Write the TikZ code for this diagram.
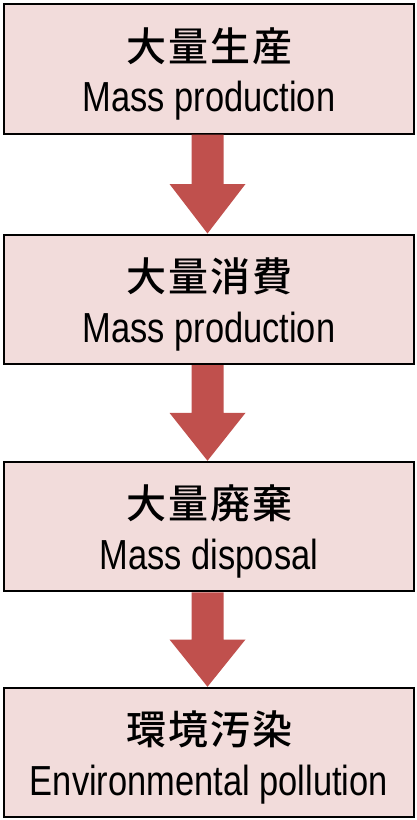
\documentclass[tikz,border=0pt]{standalone}
\usepackage{fontspec}
\setmainfont{Liberation Sans}
\newfontfamily\enfont{Liberation Sans}[FakeStretch=0.82]
\newfontfamily\jpfont{Noto Sans CJK JP Medium}[LetterSpace=5]
\usetikzlibrary{calc}
\definecolor{boxfill}{RGB}{242,220,219}
\definecolor{arrowc}{RGB}{192,80,77}
\begin{document}
\begin{tikzpicture}[x=1pt,y=1pt,
  stagebox/.style={draw=black, line width=2pt, fill=boxfill, minimum width=410pt, minimum height=129.5pt, inner sep=0pt},
  jptext/.style={font=\jpfont\fontsize{40}{42}\selectfont, inner sep=0pt},
  entext/.style={font=\enfont\fontsize{42}{44}\selectfont, inner sep=0pt, anchor=base},
  flowarrow/.style={fill=arrowc}]
\fill[white] (0,0) rectangle (416,-820);
\useasboundingbox (0,0) rectangle (416,-820);
\node[stagebox] (b1) at (209,-68.75) {};
\node[stagebox] (b2) at (209,-299.25) {};
\node[stagebox] (b3) at (209,-526.5) {};
\node[stagebox] (b4) at (209,-752.5) {};
\node[jptext] (j1) at ($(b1.center)+(0,23)$) {大量生産};
\node[entext] (e1) at ($(b1.center)+(0,-43)$) {Mass production};
\node[jptext] (j2) at ($(b2.center)+(0,23)$) {大量消費};
\node[entext] (e2) at ($(b2.center)+(0,-43)$) {Mass production};
\node[jptext] (j3) at ($(b3.center)+(0,23)$) {大量廃棄};
\node[entext] (e3) at ($(b3.center)+(0,-43)$) {Mass disposal};
\node[jptext] (j4) at ($(b4.center)+(0,23)$) {環境汚染};
\node[entext] (e4) at ($(b4.center)+(0,-43)$) {Environmental pollution};
\foreach \a/\b in {b1/b2,b2/b3,b3/b4}{
  \fill[flowarrow] let \p1=(\a.south), \p2=(\b.north), \n1={(\y1+\y2)/2} in
    (\x1-17.5,\y1) -- (\x1+14.5,\y1) -- (\x1+14.5,\n1) -- (\x1+36.5,\n1)
    -- (\x2-1.5,\y2) -- (\x1-39.5,\n1) -- (\x1-17.5,\n1) -- cycle;
}
\end{tikzpicture}
\end{document}
